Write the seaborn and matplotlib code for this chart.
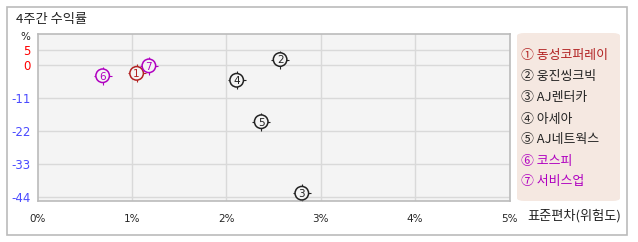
import matplotlib
matplotlib.use("Agg")
import matplotlib.pyplot as plt
import seaborn as sns
import pandas as pd
from matplotlib.patches import FancyBboxPatch, Rectangle

# ---- data ----
labels = ["①", "②", "③", "④", "⑤", "⑥", "⑦"]
digits = ["1", "2", "3", "4", "5", "6", "7"]
names = ["동성코퍼레이", "웅진씽크빅", "AJ렌터카", "아세아", "AJ네트웍스", "코스피", "서비스업"]
std_dev = [1.05, 2.57, 2.80, 2.11, 2.37, 0.69, 1.18]
returns = [-2.7, 1.9, -42.6, -5.0, -18.8, -3.5, -0.2]
colors = ["#b22222", "#222222", "#222222", "#222222", "#222222", "#b000c0", "#b000c0"]
yticks = [5, 0, -11, -22, -33, -44]
xticks = [0, 1, 2, 3, 4, 5]
xtick_labels = ["0%", "1%", "2%", "3%", "4%", "5%"]

sns.set_theme(style="white")
plt.rcParams["font.family"] = ["Noto Sans CJK KR", "DejaVu Sans"]

df = pd.DataFrame({"name": names, "x": std_dev, "y": returns, "c": colors})

fig = plt.figure(figsize=(6.38, 2.42), dpi=100)
W, H = 638, 242

# outer border
fig.patches.append(Rectangle((7 / W, 1 - 235 / H), 620 / W, 228 / H, transform=fig.transFigure,
                             fill=False, edgecolor="#bbbbbb", linewidth=1.2))

ax = fig.add_axes([37.5 / W, 1 - 201 / H, 472 / W, 167 / H])
ax.set_facecolor("#f4f4f4")
ax.set_xlim(0, 5)
ax.set_ylim(-45.2, 10.4)

for v in [1, 2, 3, 4]:
    ax.axvline(v, color="#d9d9d9", linewidth=1, zorder=0)
for v in yticks:
    ax.axhline(v, color="#d9d9d9", linewidth=1, zorder=0)

# tick crosses behind circles
for i, r in df.iterrows():
    ax.scatter([r.x], [r.y], marker="+", s=165, color=r.c, linewidths=0.8, zorder=2)
sns.scatterplot(data=df, x="x", y="y", hue="name", palette=dict(zip(names, colors)),
                s=95, facecolor="#f4f4f4", legend=False, ax=ax, zorder=3, linewidth=1.1)
coll = ax.collections[-1]
coll.set_edgecolors(colors)
coll.set_facecolors(["#f4f4f4"] * len(colors))
for i, r in df.iterrows():
    ax.text(r.x, r.y - 0.3, digits[i], color=r.c, fontsize=7.5, ha="center", va="center",
            family="DejaVu Sans", zorder=4)

ax.set_xlabel("")
ax.set_ylabel("")
ax.set_xticks(xticks)
ax.set_xticklabels(xtick_labels, fontsize=7.5, family="DejaVu Sans")
ax.set_yticks(yticks)
ax.set_yticklabels([str(v) for v in yticks], fontsize=8.5, family="DejaVu Sans")
for t, v in zip(ax.get_yticklabels(), yticks):
    t.set_color("#ff0000" if v >= 0 else "#4a4aff")
ax.tick_params(axis="both", length=0)
ax.tick_params(axis="x", pad=9)
ax.tick_params(axis="y", pad=5)
for s in ax.spines.values():
    s.set_color("#bbbbbb")
    s.set_linewidth(1.2)

fig.text(16 / W, 1 - 20 / H, "4주간 수익률", fontsize=9.5, ha="left", va="center", color="#222222")
fig.text(25 / W, 1 - 37 / H, "%", fontsize=7.5, ha="center", va="center", color="#222222",
         family="DejaVu Sans")
fig.text(527 / W, 1 - 216 / H, "표준편차(위험도)", fontsize=9.5, ha="left", va="center", color="#222222")

# legend box
fig.patches.append(FancyBboxPatch((517 / W, 1 - 201 / H), 103 / W, 168 / H,
                                  boxstyle="round,pad=0,rounding_size=0.012",
                                  transform=fig.transFigure, facecolor="#f5e8e1",
                                  edgecolor="none"))
leg_y = [55, 77, 98, 119, 140, 161, 182]
for lab, nm, c, yy in zip(labels, names, colors, leg_y):
    fig.text(521 / W, 1 - yy / H, f"{lab} {nm}", fontsize=9.3, ha="left", va="center", color=c)

fig.savefig("out.png", dpi=100)
